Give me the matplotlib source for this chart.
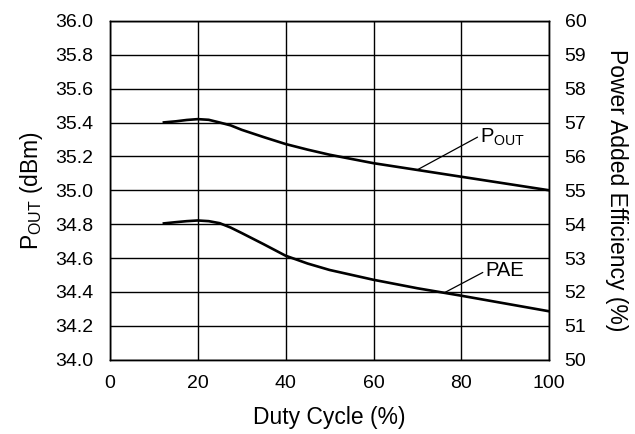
import numpy as np
import matplotlib.pyplot as plt

plt.rcParams['font.family'] = ['Liberation Sans', 'DejaVu Sans']

# values
duty = [12, 15, 17.5, 20, 22.5, 25, 27.5, 30, 35, 40, 45, 50, 60, 70, 80, 90, 100]
pout = [35.40, 35.407, 35.415, 35.42, 35.416, 35.40, 35.383, 35.357, 35.314, 35.273,
        35.24, 35.21, 35.16, 35.12, 35.08, 35.04, 35.00]
pae = [54.02, 54.06, 54.09, 54.11, 54.09, 54.03, 53.9, 53.74, 53.41, 53.07,
       52.84, 52.65, 52.36, 52.11, 51.89, 51.66, 51.43]

x_ticks = [0, 20, 40, 60, 80, 100]
left_ticks = np.arange(34.0, 36.01, 0.2)
right_ticks = np.arange(50, 61, 1)

fig = plt.figure(figsize=(6.35, 4.34), dpi=100)
ax1 = fig.add_axes([0.173, 0.171, 0.692, 0.781])
ax2 = ax1.twinx()

ax1.plot(duty, pout, color='black', linewidth=1.9, solid_capstyle='butt')
ax2.plot(duty, pae, color='black', linewidth=1.9, solid_capstyle='butt')

ax1.set_xlim(0, 100)
ax1.set_ylim(34.0, 36.0)
ax2.set_ylim(50, 60)
ax1.set_xticks(x_ticks)
ax1.set_yticks(left_ticks)
ax1.set_yticklabels(['%.1f' % v for v in left_ticks])
ax2.set_yticks(right_ticks)
ax1.grid(True, color='black', linewidth=1.0)
ax1.set_axisbelow(True)

ax1.tick_params(axis='both', length=0, labelsize=14)
ax1.tick_params(axis='y', pad=12)
ax1.tick_params(axis='x', pad=11)
ax2.tick_params(axis='y', length=0, labelsize=14, pad=11)
for ax in (ax1, ax2):
    for s in ax.spines.values():
        s.set_linewidth(1.0)
        s.set_color('black')

ax1.set_xlabel('Duty Cycle (%)', fontsize=16.5, labelpad=10)
ax1.set_ylabel(r'P$_{\mathregular{OUT}}$ (dBm)', fontsize=16.5, labelpad=7)
ax2.set_ylabel('Power Added Efficiency (%)', fontsize=16.5, rotation=270, labelpad=30)

ax1.annotate(r'P$_{\mathregular{OUT}}$', xy=(69.9, 35.12), xytext=(84.3, 35.31),
             fontsize=14.5, va='center', ha='left',
             arrowprops=dict(arrowstyle='-', color='black', linewidth=0.9,
                             shrinkA=0, shrinkB=0, relpos=(0, 0.6)))
ax2.annotate('PAE', xy=(76.3, 51.99), xytext=(85.5, 52.62),
             fontsize=14.5, va='center', ha='left',
             arrowprops=dict(arrowstyle='-', color='black', linewidth=0.9,
                             shrinkA=0, shrinkB=0, relpos=(0, 0.5)))

plt.savefig('out.png', dpi=100)
